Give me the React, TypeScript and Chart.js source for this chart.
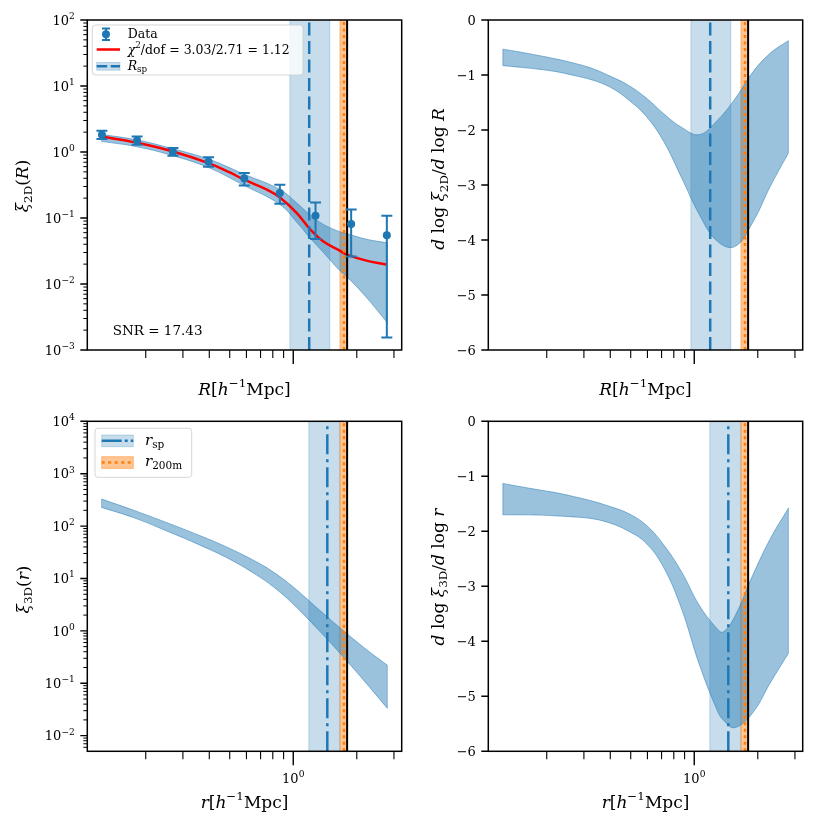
import React, { useEffect, useRef } from 'react';
import { Chart, registerables } from 'chart.js';

Chart.register(...registerables);

const FONT = '"DejaVu Serif"';
const C0 = '#1f77b4';
const C1 = '#ff7f0e';
const RED = '#ff0000';
const BAND_FILL = 'rgba(31,119,180,0.45)';
const BAND_EDGE = 'rgba(31,119,180,0.5)';
const SPAN_BLUE = 'rgba(31,119,180,0.25)';
const SPAN_ORANGE = 'rgba(255,127,14,0.45)';

// ---------------- axes ----------------
const xLimits = [0.1057, 3.265];
const xMajorTicks = [1];
const xMinorTicks = [0.2, 0.3, 0.4, 0.5, 0.6, 0.7, 0.8, 0.9, 2, 3];
const xTickLabelValues = [1];
const xTickLabelExps = ['0'];

const xi2DLimits = [1e-3, 1e2];
const xi2DTicks = [1e-3, 1e-2, 1e-1, 1, 10, 100];
const xi2DTickExps = ['−3', '−2', '−1', '0', '1', '2'];

const xi3DLimits = [0.00503, 1e4];
const xi3DTicks = [1e-2, 1e-1, 1, 10, 100, 1e3, 1e4];
const xi3DTickExps = ['−2', '−1', '0', '1', '2', '3', '4'];

const slopeLimits = [-6, 0];
const slopeTicks = [0, -1, -2, -3, -4, -5, -6];
const slopeTickLabels = ['0', '−1', '−2', '−3', '−4', '−5', '−6'];

// ---------------- top-left: projected profile ----------------
const dataR = [0.124, 0.182, 0.269, 0.397, 0.586, 0.864, 1.275, 1.881, 2.776];
const dataXi = [1.83, 1.5, 1.0, 0.713, 0.398, 0.239, 0.108, 0.081, 0.055];
const dataXiHi = [2.09, 1.72, 1.15, 0.83, 0.48, 0.32, 0.172, 0.134, 0.108];
const dataXiLo = [1.57, 1.29, 0.88, 0.6, 0.31, 0.165, 0.048, 0.026, 0.00155];

const fitR = [0.1236, 0.182, 0.269, 0.397, 0.5, 0.586, 0.75, 0.865, 1.037, 1.2, 1.39, 1.66, 1.79, 2.2, 2.79];
const fitXi = [1.72, 1.38, 1.02, 0.68, 0.49, 0.38, 0.27, 0.205, 0.12, 0.068, 0.044, 0.032, 0.0278, 0.0228, 0.0196];

const band2DR = [0.1236, 0.182, 0.269, 0.397, 0.586, 0.865, 1.037, 1.2, 1.39, 1.66, 1.79, 2.2, 2.79];
const band2DHi = [1.85, 1.52, 1.12, 0.78, 0.46, 0.27, 0.17, 0.112, 0.08, 0.062, 0.058, 0.048, 0.042];
const band2DLo = [1.45, 1.2, 0.88, 0.58, 0.31, 0.16, 0.087, 0.05, 0.03, 0.016, 0.013, 0.0065, 0.0026];

// ---------------- top-right: 2D log slope ----------------
const slope2DR = [0.1239, 0.1507, 0.1828, 0.2223, 0.2698, 0.3281, 0.399, 0.4842, 0.5888, 0.7145, 0.869, 1.0544, 1.2823, 1.556, 1.8923, 2.2961, 2.7925];
const slope2DHi = [-0.53, -0.585, -0.645, -0.71, -0.785, -0.88, -1.02, -1.18, -1.41, -1.7, -1.95, -2.085, -1.83, -1.44, -0.95, -0.6, -0.376];
const slope2DLo = [-0.83, -0.86, -0.895, -0.94, -1.01, -1.09, -1.22, -1.44, -1.74, -2.2, -2.86, -3.53, -4.02, -4.12, -3.68, -3.02, -2.42];

// ---------------- bottom-left: 3D profile ----------------
const xi3DR = [0.1236, 0.175, 0.25, 0.36, 0.5, 0.7, 0.85, 1.0, 1.15, 1.3, 1.45, 1.6, 1.8, 2.0, 2.3, 2.79];
const xi3DHi = [328, 201, 117.5, 66.1, 37.5, 18.8, 11.4, 6.87, 4.22, 2.71, 1.85, 1.31, 0.877, 0.619, 0.396, 0.222];
const xi3DLo = [227.5, 145.2, 81.5, 43.6, 23.3, 10.4, 5.81, 3.24, 1.85, 1.1, 0.69, 0.448, 0.264, 0.162, 0.0841, 0.0333];

// ---------------- bottom-right: 3D log slope ----------------
const slope3DR = [0.1239, 0.1507, 0.1828, 0.2223, 0.2698, 0.3281, 0.399, 0.4842, 0.5888, 0.7145, 0.869, 1.0544, 1.2823, 1.371, 1.556, 1.8923, 2.2961, 2.7925];
const slope3DHi = [-1.13, -1.19, -1.245, -1.3, -1.37, -1.45, -1.55, -1.67, -1.88, -2.24, -2.73, -3.34, -3.77, -3.83, -3.55, -2.8, -2.13, -1.58];
const slope3DLo = [-1.7, -1.7, -1.705, -1.72, -1.74, -1.77, -1.85, -1.99, -2.21, -2.65, -3.4, -4.41, -5.25, -5.43, -5.57, -5.3, -4.75, -4.22];

// ---------------- vertical markers ----------------
const Rsp2D = 1.19;
const Rsp2DSpan = [0.964, 1.49];
const rsp3D = 1.45;
const rsp3DSpan = [1.185, 1.664];
const r200m = 1.74;
const r200mSpan = [1.664, 1.79];
const rBlack = 1.8;

// ---------------- text helpers ----------------
type Seg = { t: string; it?: boolean; sup?: boolean; sub?: boolean };

function fontFor(s: Seg, size: number) {
  const sz = s.sup || s.sub ? size * 0.7 : size;
  return `${s.it ? 'italic ' : ''}${sz}px ${FONT}`;
}

function drawRich(ctx: CanvasRenderingContext2D, segs: Seg[], x: number, y: number, size: number, align = 'left', rot = 0) {
  ctx.save();
  ctx.translate(x, y);
  if (rot) ctx.rotate(rot);
  let w = 0;
  for (const s of segs) {
    ctx.font = fontFor(s, size);
    w += ctx.measureText(s.t).width;
  }
  let cx = align === 'left' ? 0 : align === 'center' ? -w / 2 : -w;
  ctx.fillStyle = '#000';
  ctx.textAlign = 'left';
  ctx.textBaseline = 'alphabetic';
  for (const s of segs) {
    ctx.font = fontFor(s, size);
    const dy = s.sup ? -0.45 * size : s.sub ? 0.22 * size : 0;
    ctx.fillText(s.t, cx, dy);
    cx += ctx.measureText(s.t).width;
  }
  ctx.restore();
}

const powLabel = (e: string): Seg[] => [{ t: '10' }, { t: e, sup: true }];

const xTitle2D: Seg[] = [{ t: 'R', it: true }, { t: '[' }, { t: 'h', it: true }, { t: '−1', sup: true }, { t: 'Mpc]' }];
const xTitle3D: Seg[] = [{ t: 'r', it: true }, { t: '[' }, { t: 'h', it: true }, { t: '−1', sup: true }, { t: 'Mpc]' }];
const yTitleTL: Seg[] = [{ t: 'ξ', it: true }, { t: '2D', sub: true }, { t: '(' }, { t: 'R', it: true }, { t: ')' }];
const yTitleTR: Seg[] = [{ t: 'd', it: true }, { t: ' log ' }, { t: 'ξ', it: true }, { t: '2D', sub: true }, { t: '/' }, { t: 'd', it: true }, { t: ' log ' }, { t: 'R', it: true }];
const yTitleBL: Seg[] = [{ t: 'ξ', it: true }, { t: '3D', sub: true }, { t: '(' }, { t: 'r', it: true }, { t: ')' }];
const yTitleBR: Seg[] = [{ t: 'd', it: true }, { t: ' log ' }, { t: 'ξ', it: true }, { t: '3D', sub: true }, { t: '/' }, { t: 'd', it: true }, { t: ' log ' }, { t: 'r', it: true }];

function logMinor(lim: number[]) {
  const out: number[] = [];
  for (let e = Math.floor(Math.log10(lim[0])); e <= Math.ceil(Math.log10(lim[1])); e++) {
    for (let k = 2; k <= 9; k++) {
      const v = k * Math.pow(10, e);
      if (v >= lim[0] && v <= lim[1]) out.push(v);
    }
  }
  return out;
}

function roundRect(ctx: CanvasRenderingContext2D, x: number, y: number, w: number, h: number, r: number) {
  ctx.beginPath();
  ctx.moveTo(x + r, y);
  ctx.arcTo(x + w, y, x + w, y + h, r);
  ctx.arcTo(x + w, y + h, x, y + h, r);
  ctx.arcTo(x, y + h, x, y, r);
  ctx.arcTo(x, y, x + w, y, r);
  ctx.closePath();
}

function hline(ctx: CanvasRenderingContext2D, x0: number, x1: number, y: number, color: string, w: number, dash: number[]) {
  ctx.save();
  ctx.strokeStyle = color;
  ctx.lineWidth = w;
  ctx.setLineDash(dash);
  ctx.beginPath();
  ctx.moveTo(x0, y);
  ctx.lineTo(x1, y);
  ctx.stroke();
  ctx.restore();
}

function patch(ctx: CanvasRenderingContext2D, x: number, y: number, w: number, h: number, color: string) {
  ctx.save();
  ctx.fillStyle = color;
  ctx.fillRect(x, y, w, h);
  ctx.strokeStyle = color;
  ctx.lineWidth = 1;
  ctx.strokeRect(x, y, w, h);
  ctx.restore();
}

// ---------------- datasets ----------------
const pts = (xs: number[], ys: number[]) => xs.map((x, i) => ({ x, y: ys[i] }));

const vline = (v: number, lim: number[], color: string, width: number, dash: number[]) => ({
  data: [{ x: v, y: lim[0] }, { x: v, y: lim[1] }],
  borderColor: color,
  borderWidth: width,
  borderDash: dash,
  borderCapStyle: 'butt',
  pointRadius: 0,
  tension: 0,
  fill: false,
});

const SMOOTH = 0.4;

const bandUpper = (xs: number[], ys: number[]) => ({
  data: pts(xs, ys),
  borderColor: BAND_EDGE,
  borderWidth: 1,
  backgroundColor: BAND_FILL,
  fill: '+1',
  pointRadius: 0,
  tension: SMOOTH,
});
const bandLower = (xs: number[], ys: number[]) => ({
  data: pts(xs, ys),
  borderColor: BAND_EDGE,
  borderWidth: 1,
  fill: false,
  pointRadius: 0,
  tension: SMOOTH,
});

const DASHED = [13, 5.5];
const DASHDOT = [20, 5, 3, 5];
const DOTTED = [3, 3.5];

// ---------------- panel plugin ----------------
interface PanelCfg {
  yMajor: number[];
  yMajorLabels: Seg[][];
  yMinor: number[];
  showXLabels: boolean;
  xTitle: Seg[];
  xTitleOffset: number;
  yTitle: Seg[];
  yTitleX: number;
  yTitleY: number;
  spans: { range: number[]; color: string }[];
  bands: { xs: number[]; hi: number[]; lo: number[] }[];
  afterData?: (chart: any) => void;
  overlay?: (ctx: CanvasRenderingContext2D) => void;
}

function makePlugin(cfg: PanelCfg) {
  return {
    id: 'panelDecor',
    beforeDatasetsDraw(chart: any) {
      const { ctx, chartArea: a } = chart;
      const x = chart.scales.x;
      const y = chart.scales.y;
      ctx.save();
      ctx.beginPath();
      ctx.rect(a.left, a.top, a.right - a.left, a.bottom - a.top);
      ctx.clip();
      for (const s of cfg.spans) {
        const x0 = x.getPixelForValue(s.range[0]);
        const x1 = x.getPixelForValue(s.range[1]);
        ctx.fillStyle = s.color;
        ctx.fillRect(x0, a.top, x1 - x0, a.bottom - a.top);
        ctx.strokeStyle = s.color;
        ctx.lineWidth = 1;
        ctx.beginPath();
        ctx.moveTo(x0, a.top);
        ctx.lineTo(x0, a.bottom);
        ctx.moveTo(x1, a.top);
        ctx.lineTo(x1, a.bottom);
        ctx.stroke();
      }
      for (const b of cfg.bands) {
        ctx.strokeStyle = BAND_EDGE;
        ctx.lineWidth = 1;
        const n = b.xs.length - 1;
        ctx.beginPath();
        for (const i of [0, n]) {
          const px = x.getPixelForValue(b.xs[i]);
          ctx.moveTo(px, y.getPixelForValue(b.hi[i]));
          ctx.lineTo(px, y.getPixelForValue(b.lo[i]));
        }
        ctx.stroke();
      }
      ctx.restore();
    },
    afterDatasetsDraw(chart: any) {
      if (cfg.afterData) cfg.afterData(chart);
    },
    afterDraw(chart: any) {
      const { ctx, chartArea: a } = chart;
      const x = chart.scales.x;
      const y = chart.scales.y;
      ctx.save();
      ctx.strokeStyle = '#000';
      ctx.lineWidth = 1.1;
      ctx.beginPath();
      for (const v of xMinorTicks) {
        const px = x.getPixelForValue(v);
        ctx.moveTo(px, a.bottom);
        ctx.lineTo(px, a.bottom + 8);
      }
      ctx.stroke();
      ctx.lineWidth = 1.4;
      ctx.beginPath();
      for (const v of xMajorTicks) {
        const px = x.getPixelForValue(v);
        ctx.moveTo(px, a.bottom);
        ctx.lineTo(px, a.bottom + 14);
      }
      ctx.stroke();
      ctx.lineWidth = 1;
      ctx.beginPath();
      for (const v of cfg.yMinor) {
        const py = y.getPixelForValue(v);
        ctx.moveTo(a.left, py);
        ctx.lineTo(a.left - 4, py);
      }
      ctx.stroke();
      ctx.lineWidth = 1.4;
      ctx.beginPath();
      for (const v of cfg.yMajor) {
        const py = y.getPixelForValue(v);
        ctx.moveTo(a.left, py);
        ctx.lineTo(a.left - 7, py);
      }
      ctx.stroke();
      ctx.lineWidth = 1.5;
      ctx.strokeRect(a.left, a.top, a.right - a.left, a.bottom - a.top);

      cfg.yMajor.forEach((v, i) => {
        drawRich(ctx, cfg.yMajorLabels[i], a.left - 12.5, y.getPixelForValue(v) + 4.7, 13, 'right');
      });
      if (cfg.showXLabels) {
        xTickLabelValues.forEach((v, i) => {
          drawRich(ctx, powLabel(xTickLabelExps[i]), x.getPixelForValue(v), a.bottom + 31.7, 13, 'center');
        });
      }
      drawRich(ctx, cfg.xTitle, (a.left + a.right) / 2, a.bottom + cfg.xTitleOffset, 17, 'center');
      drawRich(ctx, cfg.yTitle, cfg.yTitleX, cfg.yTitleY, 17, 'center', -Math.PI / 2);
      if (cfg.overlay) cfg.overlay(ctx);
      ctx.restore();
    },
  };
}

function baseOptions(padding: any, yType: string, yLim: number[]) {
  return {
    responsive: false,
    animation: false,
    events: [],
    layout: { padding, autoPadding: false },
    plugins: { legend: { display: false }, tooltip: { enabled: false } },
    scales: {
      x: { type: 'logarithmic', min: xLimits[0], max: xLimits[1], display: false, bounds: 'data' },
      y: { type: yType, min: yLim[0], max: yLim[1], display: false, bounds: 'data' },
    },
  };
}

// ---------------- panels ----------------
function buildTL() {
  const cfg: PanelCfg = {
    yMajor: xi2DTicks,
    yMajorLabels: xi2DTickExps.map(powLabel),
    yMinor: logMinor(xi2DLimits),
    showXLabels: false,
    xTitle: xTitle2D,
    xTitleOffset: 45,
    yTitle: yTitleTL,
    yTitleX: 28,
    yTitleY: 186,
    spans: [
      { range: Rsp2DSpan, color: SPAN_BLUE },
      { range: r200mSpan, color: SPAN_ORANGE },
    ],
    bands: [{ xs: band2DR, hi: band2DHi, lo: band2DLo }],
    afterData: (chart: any) => {
      const { ctx } = chart;
      const x = chart.scales.x;
      const y = chart.scales.y;
      ctx.save();
      ctx.strokeStyle = C0;
      ctx.lineWidth = 2;
      dataR.forEach((r, i) => {
        const px = x.getPixelForValue(r);
        const t = y.getPixelForValue(dataXiHi[i]);
        const b = y.getPixelForValue(dataXiLo[i]);
        ctx.beginPath();
        ctx.moveTo(px, t);
        ctx.lineTo(px, b);
        ctx.moveTo(px - 5.5, t);
        ctx.lineTo(px + 5.5, t);
        ctx.moveTo(px - 5.5, b);
        ctx.lineTo(px + 5.5, b);
        ctx.stroke();
      });
      ctx.restore();
    },
    overlay: (ctx) => {
      drawRich(ctx, [{ t: 'SNR = 17.43' }], 112.7, 335, 13.5, 'left');
      // legend
      ctx.save();
      roundRect(ctx, 92.3, 25, 210.7, 50, 3);
      ctx.fillStyle = 'rgba(255,255,255,0.8)';
      ctx.fill();
      ctx.strokeStyle = 'rgba(204,204,204,0.8)';
      ctx.lineWidth = 1;
      ctx.stroke();
      // errorbar handle
      ctx.strokeStyle = C0;
      ctx.lineWidth = 2;
      ctx.beginPath();
      ctx.moveTo(106, 28.5);
      ctx.lineTo(106, 40);
      ctx.moveTo(102, 28.5);
      ctx.lineTo(110, 28.5);
      ctx.moveTo(102, 40);
      ctx.lineTo(110, 40);
      ctx.stroke();
      ctx.fillStyle = C0;
      ctx.beginPath();
      ctx.arc(106, 34.2, 4, 0, Math.PI * 2);
      ctx.fill();
      ctx.restore();
      hline(ctx, 96.7, 120, 49.5, RED, 2.5, []);
      patch(ctx, 96.7, 62.5, 23.3, 7.7, SPAN_BLUE);
      hline(ctx, 96.7, 120, 66.3, C0, 2.5, [10.5, 3.5]);
      drawRich(ctx, [{ t: 'Data' }], 127.7, 38.3, 12.5, 'left');
      drawRich(
        ctx,
        [{ t: 'χ', it: true }, { t: '2', sup: true }, { t: '/dof = 3.03/2.71 = 1.12' }],
        127.7,
        53.8,
        12.5,
        'left'
      );
      drawRich(ctx, [{ t: 'R', it: true }, { t: 'sp', sub: true }], 127.7, 69.5, 12.5, 'left');
    },
  };
  return {
    type: 'line',
    data: {
      datasets: [
        {
          data: pts(dataR, dataXi),
          showLine: false,
          pointRadius: 4,
          pointBackgroundColor: C0,
          pointBorderColor: C0,
          pointBorderWidth: 0,
        },
        vline(rBlack, xi2DLimits, '#000000', 2, []),
        vline(r200m, xi2DLimits, C1, 2.5, DOTTED),
        vline(Rsp2D, xi2DLimits, C0, 2.5, DASHED),
        {
          data: pts(fitR, fitXi),
          borderColor: RED,
          borderWidth: 2.5,
          pointRadius: 0,
          fill: false,
          tension: SMOOTH,
        },
        bandUpper(band2DR, band2DHi),
        bandLower(band2DR, band2DLo),
      ],
    },
    options: baseOptions({ left: 87.3, top: 20, right: 13.3, bottom: 50 }, 'logarithmic', xi2DLimits),
    plugins: [makePlugin(cfg)],
  };
}

function buildTR() {
  const cfg: PanelCfg = {
    yMajor: slopeTicks,
    yMajorLabels: slopeTickLabels.map((t) => [{ t }]),
    yMinor: [],
    showXLabels: false,
    xTitle: xTitle2D,
    xTitleOffset: 45,
    yTitle: yTitleTR,
    yTitleX: 29,
    yTitleY: 179,
    spans: [
      { range: Rsp2DSpan, color: SPAN_BLUE },
      { range: r200mSpan, color: SPAN_ORANGE },
    ],
    bands: [{ xs: slope2DR, hi: slope2DHi, lo: slope2DLo }],
  };
  return {
    type: 'line',
    data: {
      datasets: [
        vline(rBlack, slopeLimits, '#000000', 2, []),
        vline(r200m, slopeLimits, C1, 2.5, DOTTED),
        vline(Rsp2D, slopeLimits, C0, 2.5, DASHED),
        bandUpper(slope2DR, slope2DHi),
        bandLower(slope2DR, slope2DLo),
      ],
    },
    options: baseOptions({ left: 73.3, top: 20, right: 27.3, bottom: 50 }, 'linear', slopeLimits),
    plugins: [makePlugin(cfg)],
  };
}

function buildBL() {
  const cfg: PanelCfg = {
    yMajor: xi3DTicks,
    yMajorLabels: xi3DTickExps.map(powLabel),
    yMinor: logMinor(xi3DLimits),
    showXLabels: true,
    xTitle: xTitle3D,
    xTitleOffset: 56.7,
    yTitle: yTitleBL,
    yTitleX: 28.5,
    yTitleY: 189.5,
    spans: [
      { range: rsp3DSpan, color: SPAN_BLUE },
      { range: r200mSpan, color: SPAN_ORANGE },
    ],
    bands: [{ xs: xi3DR, hi: xi3DHi, lo: xi3DLo }],
    overlay: (ctx) => {
      ctx.save();
      roundRect(ctx, 95, 28.3, 96.7, 49, 3);
      ctx.fillStyle = 'rgba(255,255,255,0.8)';
      ctx.fill();
      ctx.strokeStyle = 'rgba(204,204,204,0.8)';
      ctx.lineWidth = 1;
      ctx.stroke();
      ctx.restore();
      patch(ctx, 101.7, 35, 31.6, 11.7, SPAN_BLUE);
      hline(ctx, 101.7, 133.3, 40.8, C0, 2.5, [20, 3, 3, 3]);
      patch(ctx, 101.7, 56.7, 31.6, 11.7, SPAN_ORANGE);
      hline(ctx, 101.7, 133.3, 62.5, C1, 2.5, DOTTED);
      drawRich(ctx, [{ t: 'r', it: true }, { t: 'sp', sub: true }], 145, 44.5, 15, 'left');
      drawRich(ctx, [{ t: 'r', it: true }, { t: '200m', sub: true }], 145, 66, 15, 'left');
    },
  };
  return {
    type: 'line',
    data: {
      datasets: [
        vline(rBlack, xi3DLimits, '#000000', 2, []),
        vline(r200m, xi3DLimits, C1, 2.5, DOTTED),
        vline(rsp3D, xi3DLimits, C0, 2.5, DASHDOT),
        bandUpper(xi3DR, xi3DHi),
        bandLower(xi3DR, xi3DLo),
      ],
    },
    options: baseOptions({ left: 87.3, top: 21.3, right: 13.3, bottom: 76.7 }, 'logarithmic', xi3DLimits),
    plugins: [makePlugin(cfg)],
  };
}

function buildBR() {
  const cfg: PanelCfg = {
    yMajor: slopeTicks,
    yMajorLabels: slopeTickLabels.map((t) => [{ t }]),
    yMinor: [],
    showXLabels: true,
    xTitle: xTitle3D,
    xTitleOffset: 56.7,
    yTitle: yTitleBR,
    yTitleX: 28.5,
    yTitleY: 177,
    spans: [
      { range: rsp3DSpan, color: SPAN_BLUE },
      { range: r200mSpan, color: SPAN_ORANGE },
    ],
    bands: [{ xs: slope3DR, hi: slope3DHi, lo: slope3DLo }],
  };
  return {
    type: 'line',
    data: {
      datasets: [
        vline(rBlack, slopeLimits, '#000000', 2, []),
        vline(r200m, slopeLimits, C1, 2.5, DOTTED),
        vline(rsp3D, slopeLimits, C0, 2.5, DASHDOT),
        bandUpper(slope3DR, slope3DHi),
        bandLower(slope3DR, slope3DLo),
      ],
    },
    options: baseOptions({ left: 73.3, top: 21.3, right: 27.3, bottom: 76.7 }, 'linear', slopeLimits),
    plugins: [makePlugin(cfg)],
  };
}

function Panel(props: { left: number; top: number; width: number; height: number; build: () => any }) {
  const ref = useRef<HTMLCanvasElement>(null);
  useEffect(() => {
    const chart = new Chart(ref.current as HTMLCanvasElement, props.build());
    return () => chart.destroy();
  }, []);
  return (
    <canvas
      ref={ref}
      width={props.width}
      height={props.height}
      style={{ position: 'absolute', left: props.left, top: props.top, width: props.width, height: props.height, display: 'block' }}
    />
  );
}

export default function App() {
  return (
    <div style={{ position: 'absolute', left: 0, top: 0, width: 830, height: 828, background: '#ffffff' }}>
      <Panel left={0} top={0} width={415} height={400} build={buildTL} />
      <Panel left={415} top={0} width={415} height={400} build={buildTR} />
      <Panel left={0} top={400} width={415} height={428} build={buildBL} />
      <Panel left={415} top={400} width={415} height={428} build={buildBR} />
    </div>
  );
}
